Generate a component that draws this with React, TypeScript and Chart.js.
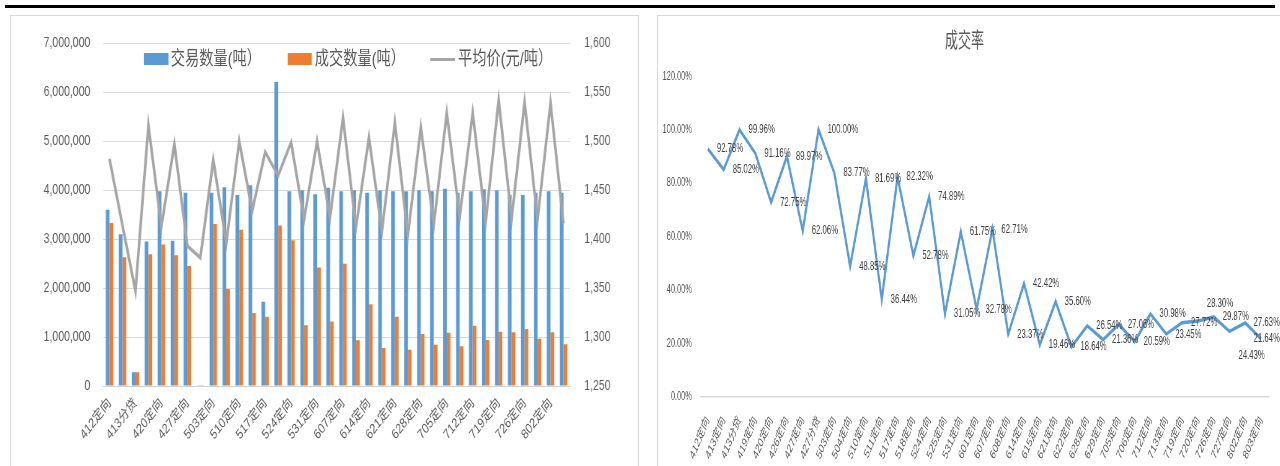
import React, { useEffect, useRef } from 'react';
import { Chart, registerables } from 'chart.js';

Chart.register(...registerables);

const FONT = "'Liberation Sans', 'Noto Sans CJK SC', sans-serif";
Chart.defaults.font.family = FONT;
Chart.defaults.color = '#595959';

// ---------- data ----------
const categories = [
  '412定向', '413定向', '413分贷', '419定向', '420定向', '426定向', '427定向', '427分贷',
  '503定向', '504定向', '510定向', '511定向', '517定向', '518定向', '524定向', '525定向',
  '531定向', '601定向', '607定向', '608定向', '614定向', '615定向', '621定向', '622定向',
  '628定向', '629定向', '705定向', '706定向', '712定向', '713定向', '719定向', '720定向',
  '726定向', '727定向', '802定向', '803定向',
];

// 交易数量(吨)
const tradeVolume = [
  3600000, 3100000, 280000, 2950000, 3980000, 2970000, 3950000, 5000,
  3950000, 4060000, 3900000, 4100000, 1720000, 6210000, 3980000, 4000000,
  3920000, 4050000, 3980000, 4000000, 3950000, 4000000, 3980000, 3980000,
  4000000, 3980000, 4030000, 3950000, 3980000, 4020000, 4000000, 3900000,
  3900000, 3950000, 3980000, 3950000,
];

// 成交数量(吨)
const dealVolume = [
  3330000, 2630000, 280000, 2690000, 2890000, 2670000, 2450000, 5000,
  3310000, 1980000, 3190000, 1490000, 1415000, 3280000, 2980000, 1240000,
  2420000, 1320000, 2500000, 935000, 1670000, 775000, 1415000, 740000,
  1060000, 845000, 1090000, 810000, 1230000, 940000, 1110000, 1100000,
  1165000, 965000, 1100000, 855000,
];

// 平均价(元/吨)
const avgPrice = [
  1482, 1414, 1347, 1516, 1413, 1497, 1393, 1381,
  1481, 1396, 1500, 1429, 1489, 1465, 1499, 1420,
  1500, 1422, 1524, 1412, 1504, 1408, 1519, 1404,
  1514, 1415, 1529, 1423, 1529, 1417, 1542, 1421,
  1540, 1420, 1539, 1416,
];

// 成交率 (%)
const dealRate = [
  92.78, 85.02, 99.96, 91.16, 72.75, 89.97, 62.06, 100.0,
  83.77, 48.85, 81.69, 36.44, 82.32, 52.78, 74.89, 31.05,
  61.75, 32.78, 62.71, 23.37, 42.42, 19.46, 35.6, 18.64,
  26.54, 21.36, 27.06, 20.59, 30.98, 23.45, 27.72, 28.3,
  29.87, 24.43, 27.63, 21.64,
];

const legendItems = ['交易数量(吨）', '成交数量(吨）', '平均价(元/吨）'];
const rateTitle = '成交率';

// ---------- plugin: point value labels (right of point, simple collision avoidance) ----------
const pointLabelPlugin = {
  id: 'pointLabels',
  afterDatasetsDraw(chart: any) {
    const ctx = chart.ctx;
    const meta = chart.getDatasetMeta(0);
    const data = chart.data.datasets[0].data as number[];
    ctx.save();
    ctx.font = `12.5px ${FONT}`;
    ctx.fillStyle = '#404040';
    ctx.textBaseline = 'middle';
    ctx.textAlign = 'left';
    const placed: { x: number; y: number; w: number }[] = [];
    const h = 11;
    const n = meta.data.length;
    for (let i = n - 1; i >= 0; i--) {
      const pt = meta.data[i];
      const text = data[i].toFixed(2) + '%';
      const w = ctx.measureText(text).width;
      let x = pt.x + 14.5;
      if (x + w > chart.width) x = chart.width - w;
      const prev = i > 0 ? data[i - 1] : Infinity;
      const next = i < n - 1 ? data[i + 1] : Infinity;
      const isMin = data[i] < prev && data[i] < next;
      const up = pt.y - 18;
      const down = pt.y + 24;
      const cands = isMin ? [pt.y, down, up] : [pt.y, up, down];
      let y = cands[0];
      for (const cy of cands) {
        const ok = placed.every(
          (b) => x + w < b.x || x > b.x + b.w || cy + h / 2 <= b.y - h / 2 || cy - h / 2 >= b.y + h / 2
        );
        if (ok) {
          y = cy;
          break;
        }
      }
      placed.push({ x, y, w });
      ctx.fillText(text, x, y);
    }
    ctx.restore();
  },
};

// ---------- left chart ----------
const LEFT_W = 835;
const LEFT_H = 450;

function LeftChart() {
  const ref = useRef<HTMLCanvasElement>(null);
  useEffect(() => {
    const chart = new Chart(ref.current as HTMLCanvasElement, {
      type: 'bar',
      data: {
        labels: categories,
        datasets: [
          {
            type: 'bar',
            label: legendItems[0],
            data: tradeVolume,
            yAxisID: 'y',
            backgroundColor: '#5B9BD5',
            barPercentage: 1,
            categoryPercentage: 0.57,
            order: 1,
          },
          {
            type: 'bar',
            label: legendItems[1],
            data: dealVolume,
            yAxisID: 'y',
            backgroundColor: '#ED7D31',
            barPercentage: 1,
            categoryPercentage: 0.57,
            order: 1,
          },
          {
            type: 'line',
            label: legendItems[2],
            data: avgPrice,
            yAxisID: 'y1',
            borderColor: '#A5A5A5',
            backgroundColor: '#A5A5A5',
            borderWidth: 3.5,
            pointRadius: 0,
            tension: 0,
            order: 0,
          },
        ] as any,
      },
      options: {
        responsive: false,
        animation: false,
        layout: { padding: { top: 22, left: 0, right: 0, bottom: 0 } },
        plugins: { legend: { display: false }, tooltip: { enabled: false } },
        scales: {
          x: {
            grid: { display: false, drawTicks: false },
            border: { display: true, color: '#D0D0D0', width: 1 },
            ticks: {
              autoSkip: false,
              minRotation: 45,
              maxRotation: 45,
              padding: 9,
              color: '#595959',
              font: { size: 14 },
              callback: (_v: any, i: number) => (i % 2 === 0 ? categories[i] : ''),
            },
            afterFit: (s: any) => {
              s.height = 80;
            },
          },
          y: {
            position: 'left',
            min: 0,
            max: 7000000,
            ticks: {
              stepSize: 1000000,
              padding: 17,
              color: '#595959',
              font: { size: 14 },
              callback: (v: any) => Number(v).toLocaleString('en-US'),
            },
            grid: { color: '#D9D9D9', drawTicks: false },
            border: { display: false },
            afterFit: (s: any) => {
              s.width = 122.7;
            },
          },
          y1: {
            position: 'right',
            min: 1250,
            max: 1600,
            ticks: {
              stepSize: 50,
              padding: 19,
              color: '#595959',
              font: { size: 14 },
              callback: (v: any) => Number(v).toLocaleString('en-US'),
            },
            grid: { drawOnChartArea: false, drawTicks: false },
            border: { display: false },
            afterFit: (s: any) => {
              s.width = 89.7;
            },
          },
        },
      } as any,
    });
    return () => chart.destroy();
  }, []);
  return <canvas ref={ref} width={LEFT_W} height={LEFT_H} style={{ width: LEFT_W, height: LEFT_H, display: 'block' }} />;
}

// ---------- right chart ----------
const RIGHT_W = 1003;
const RIGHT_H = 450;

function RightChart() {
  const ref = useRef<HTMLCanvasElement>(null);
  useEffect(() => {
    const chart = new Chart(ref.current as HTMLCanvasElement, {
      type: 'line',
      data: {
        labels: categories,
        datasets: [
          {
            label: rateTitle,
            data: dealRate,
            borderColor: '#5B9BD5',
            backgroundColor: '#5B9BD5',
            borderWidth: 3.5,
            pointRadius: 0,
            tension: 0,
            fill: false,
          },
        ],
      },
      options: {
        responsive: false,
        animation: false,
        layout: { padding: { top: 0, left: 0, right: 14.5, bottom: 0 } },
        plugins: {
          legend: { display: false },
          tooltip: { enabled: false },
          title: {
            display: true,
            text: rateTitle,
            color: '#595959',
            font: { size: 21, weight: 'normal' },
            padding: { top: 13, bottom: 22 },
          },
        },
        scales: {
          x: {
            offset: true,
            grid: { display: false, drawTicks: false },
            border: { display: true, color: '#D9D9D9', width: 1.5 },
            ticks: {
              autoSkip: false,
              minRotation: 57,
              maxRotation: 57,
              padding: 17,
              color: '#595959',
              font: { size: 13 },
            },
            afterFit: (s: any) => {
              s.height = 69.3;
            },
          },
          y: {
            min: 0,
            max: 120,
            ticks: {
              stepSize: 20,
              padding: 13,
              color: '#595959',
              font: { size: 12 },
              callback: (v: any) => Number(v).toFixed(2) + '%',
            },
            grid: { display: false, drawTicks: false },
            border: { display: false },
            afterFit: (s: any) => {
              s.width = 67.7;
            },
          },
        },
      } as any,
      plugins: [pointLabelPlugin],
    });
    return () => chart.destroy();
  }, []);
  return <canvas ref={ref} width={RIGHT_W} height={RIGHT_H} style={{ width: RIGHT_W, height: RIGHT_H, display: 'block' }} />;
}

const legendText: React.CSSProperties = {
  position: 'absolute',
  top: 32,
  fontSize: 19,
  lineHeight: '22px',
  color: '#595959',
  whiteSpace: 'nowrap',
  fontFamily: FONT,
};

export default function App() {
  return (
    <div
      style={{
        position: 'fixed',
        left: 0,
        top: 0,
        width: 1280,
        height: 466,
        overflow: 'hidden',
        background: '#fff',
        fontFamily: FONT,
      }}
    >
      <div style={{ position: 'absolute', left: 5, top: 5, width: 1270, height: 3, background: '#000' }} />
      <div
        style={{
          position: 'absolute',
          left: 10,
          top: 15,
          width: 629,
          height: 480,
          border: '1px solid #D9D9D9',
          boxSizing: 'border-box',
        }}
      />
      <div
        style={{
          position: 'absolute',
          left: 657,
          top: 15,
          width: 640,
          height: 480,
          border: '1px solid #D9D9D9',
          boxSizing: 'border-box',
        }}
      />
      <div
        style={{
          position: 'absolute',
          left: 11,
          top: 16,
          width: LEFT_W,
          height: LEFT_H,
          transform: 'scaleX(0.75)',
          transformOrigin: '0 0',
        }}
      >
        <LeftChart />
        <div style={{ position: 'absolute', left: 177, top: 37, width: 33, height: 12, background: '#5B9BD5' }} />
        <span style={{ ...legendText, left: 213 }}>{legendItems[0]}</span>
        <div style={{ position: 'absolute', left: 369, top: 37, width: 32, height: 12, background: '#ED7D31' }} />
        <span style={{ ...legendText, left: 405 }}>{legendItems[1]}</span>
        <div style={{ position: 'absolute', left: 559, top: 41.5, width: 33, height: 3.5, background: '#A5A5A5' }} />
        <span style={{ ...legendText, left: 596 }}>{legendItems[2]}</span>
      </div>
      <div
        style={{
          position: 'absolute',
          left: 658,
          top: 16,
          width: RIGHT_W,
          height: RIGHT_H,
          transform: 'scaleX(0.62)',
          transformOrigin: '0 0',
        }}
      >
        <RightChart />
      </div>
    </div>
  );
}
